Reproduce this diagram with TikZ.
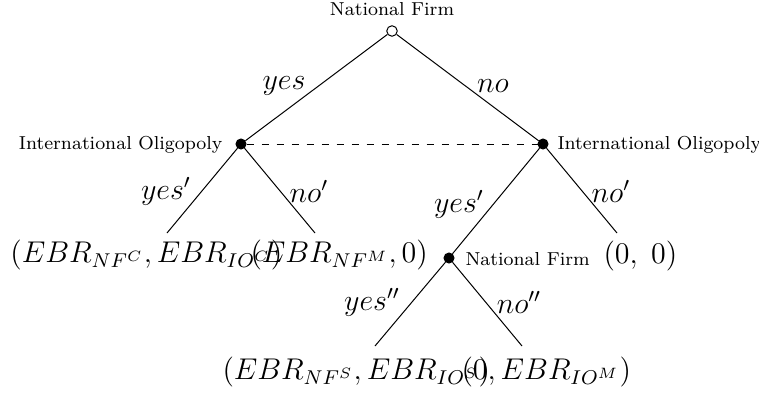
\documentclass[tikz,border=0pt]{standalone}
\begin{document}
\begin{tikzpicture}[x=0.4pt,y=-0.4pt,
  every node/.style={font=\fontsize{11.6}{14}\selectfont},
  dec/.style={circle,fill=black,draw=black,inner sep=0pt,minimum size=4pt},
  rootdec/.style={circle,fill=white,draw=black,inner sep=0pt,minimum size=4.2pt},
  player/.style={font=\fontsize{7.5}{9}\selectfont,inner sep=0pt},
  act/.style={inner sep=0pt},
  pay/.style={inner sep=0pt,anchor=base west},
  edge/.style={line width=0.4pt}]
\useasboundingbox (0,0) rectangle (759,393);
% nodes
\node[rootdec] (r) at (392,31) {};
\node[dec] (a) at (241,144) {};
\node[dec] (b) at (543,144) {};
\node[dec] (c) at (449,258) {};
\coordinate (l1) at (167,233);
\coordinate (l2) at (315,233);
\coordinate (l3) at (617,233);
\coordinate (l4) at (375,346);
\coordinate (l5) at (522,346);
% player labels
\node[player,anchor=south] (pr) at (392,16) {National Firm};
\node[player,anchor=east] (pa) at (223,145) {International Oligopoly};
\node[player,anchor=west] (pb) at (557,145) {International Oligopoly};
\node[player,anchor=west] (pc) at (465,259) {National Firm};
% edges
\draw[edge] (r) -- (a);
\draw[edge] (r) -- (b);
\draw[edge] (a) -- (l1);
\draw[edge] (a) -- (l2);
\draw[edge] (b) -- (c);
\draw[edge] (b) -- (l3);
\draw[edge] (c) -- (l4);
\draw[edge] (c) -- (l5);
\draw[edge,dashed] (a) -- (b);
% action labels
\node[act] (t1) at (284,86) {$yes$};
\node[act] (t2) at (493,86) {$no$};
\node[act] (t3) at (166,191) {$yes'$};
\node[act] (t4) at (309,191) {$no'$};
\node[act] (t5) at (459,204) {$yes'$};
\node[act] (t6) at (611,191) {$no'$};
\node[act] (t7) at (372,302) {$yes''$};
\node[act] (t8) at (519,302) {$no''$};
% payoffs
\node[pay] (p1) at (10,262) {$(EBR_{NF^C}, EBR_{IO^C})$};
\node[pay] (p2) at (250,262) {$(EBR_{NF^M}, 0)$};
\node[pay] (p3) at (603,263) {$(0,\;0)$};
\node[pay] (p4) at (222,379) {$(EBR_{NF^S}, EBR_{IO^S})$};
\node[pay] (p5) at (461,379) {$(0, EBR_{IO^M})$};
\end{tikzpicture}
\end{document}
